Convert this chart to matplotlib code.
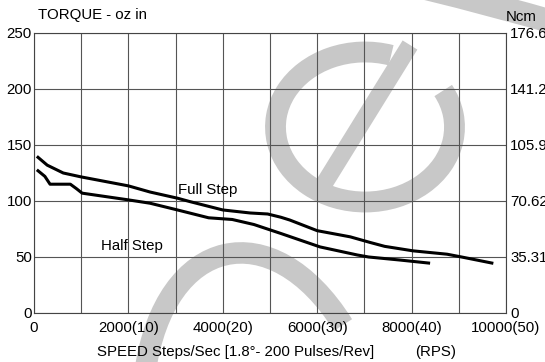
import matplotlib
matplotlib.use('Agg')
import matplotlib.pyplot as plt
from matplotlib.patches import Arc, PathPatch
from matplotlib.path import Path

plt.rcParams['font.family'] = ['Liberation Sans', 'DejaVu Sans']
FS = 10.8

# torque curves (steps/sec, oz-in)
full_speed = [85, 280, 620, 1000, 2000, 2460, 3040, 3300, 4000, 4580, 4950, 5230,
              5420, 6000, 6700, 7120, 7430, 8030, 8750, 9060, 9700]
full_torque = [139, 132, 125, 121.5, 113.5, 108, 102.5, 99.5, 92, 89.3, 88.4, 85.5,
               83, 73.5, 68, 63, 59.5, 55.5, 52.5, 50, 44.6]
half_speed = [85, 230, 340, 550, 770, 900, 1020, 2000, 2460, 3040, 3700, 4200, 4660,
              5230, 6060, 6850, 7090, 7750, 8360]
half_torque = [127, 122, 115, 115, 115, 111, 107, 101, 98, 92, 85, 83.5, 79,
               71, 59, 51.8, 50, 47.3, 44.6]

x_ticks = [0, 2000, 4000, 6000, 8000, 10000]
x_tick_labels = ['0', '2000(10)', '4000(20)', '6000(30)', '8000(40)', '10000(50)']
y_ticks = [0, 50, 100, 150, 200, 250]
ncm_labels = ['0', '35.31', '70.62', '105.9', '141.2', '176.6']

W, H = 545, 362
fig = plt.figure(figsize=(W / 100, H / 100), dpi=100)

# grey logo in the background, in pixel coords of the picture
wm = '#c8c8c8'
wax = fig.add_axes([0, 0, 1, 1], zorder=-1)
wax.set_xlim(0, W)
wax.set_ylim(H, 0)
wax.axis('off')
wax.add_patch(Arc((365, 127), 179, 150, theta1=-25, theta2=290, lw=15, color=wm))
wax.plot([410, 319], [45, 192], color=wm, lw=12.5, solid_capstyle='butt')
top = Path([(425, -12), (495, 5), (560, 24)], [Path.MOVETO, Path.CURVE3, Path.CURVE3])
wax.add_patch(PathPatch(top, fill=False, lw=17, edgecolor=wm, capstyle='butt'))
bot = Path([(145, 372), (165, 235), (272, 212), (343, 325)],
           [Path.MOVETO, Path.CURVE4, Path.CURVE4, Path.CURVE4])
wax.add_patch(PathPatch(bot, fill=False, lw=15.5, edgecolor=wm, capstyle='butt'))

ax = fig.add_axes([34 / W, 1 - 313 / H, 472 / W, 280 / H], zorder=1)
ax.set_facecolor('none')
ax.plot(full_speed, full_torque, color='black', lw=2.2)
ax.plot(half_speed, half_torque, color='black', lw=2.2)
ax.text(3686, 110, 'Full Step', ha='center', va='center', fontsize=FS)
ax.text(2066, 59.8, 'Half Step', ha='center', va='center', fontsize=FS)

ax.set_xlim(0, 10000)
ax.set_ylim(0, 250)
ax.set_xticks(x_ticks)
ax.set_xticklabels(x_tick_labels, fontsize=FS)
ax.set_xticks(range(1000, 10000, 2000), minor=True)
ax.set_yticks(y_ticks)
ax.set_yticklabels([str(v) for v in y_ticks], fontsize=FS)
ax.grid(which='both', color='#555555', lw=0.8)
ax.tick_params(which='both', length=0)
ax.tick_params(axis='x', pad=6)
ax.tick_params(axis='y', pad=1.5)
for s in ax.spines.values():
    s.set_color('#444444')
    s.set_linewidth(0.8)

ax2 = ax.twinx()
ax2.set_ylim(0, 250)
ax2.set_yticks(y_ticks)
ax2.set_yticklabels(ncm_labels, fontsize=FS)
ax2.tick_params(length=0, pad=3)
for s in ax2.spines.values():
    s.set_visible(False)

fig.text(38 / W, 1 - 15 / H, 'TORQUE - oz in', va='center', fontsize=FS)
fig.text(506 / W, 1 - 17 / H, 'Ncm', va='center', fontsize=FS)
fig.text(97 / W, 1 - 352 / H, 'SPEED Steps/Sec [1.8°- 200 Pulses/Rev]', va='center', fontsize=FS)
fig.text(415 / W, 1 - 352 / H, '(RPS)', va='center', fontsize=FS)

fig.savefig('out.png', dpi=100)
